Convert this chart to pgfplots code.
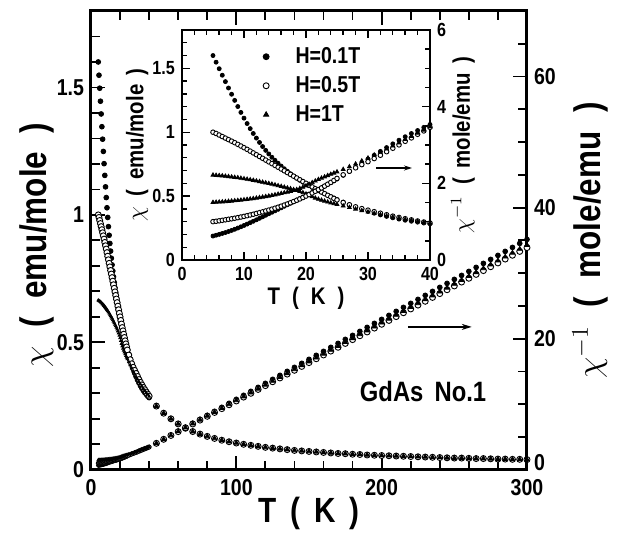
\documentclass[border=0pt]{standalone}
\usepackage{fontspec}
\setmainfont{Liberation Sans}[FakeStretch=0.85]
\usepackage{pgfplots}
\pgfplotsset{compat=1.18}
\usepackage{pgfplotstable}
\usetikzlibrary{arrows.meta}

\pgfplotstableread{
T c i
5.0 1.600 0.625
5.5 1.548 0.646
6.0 1.497 0.668
6.5 1.446 0.692
7.0 1.396 0.716
7.5 1.346 0.743
8.0 1.297 0.771
8.5 1.249 0.801
9.0 1.201 0.833
9.5 1.155 0.866
10.0 1.110 0.901
10.5 1.068 0.936
11.0 1.028 0.973
11.5 0.990 1.010
12.0 0.954 1.048
12.5 0.920 1.087
13.0 0.888 1.126
13.5 0.858 1.166
14.0 0.830 1.205
14.5 0.804 1.244
15.0 0.780 1.282
15.5 0.757 1.321
16.0 0.735 1.361
16.5 0.714 1.401
17.0 0.694 1.441
17.5 0.675 1.481
18.0 0.657 1.522
18.5 0.640 1.563
19.0 0.624 1.603
19.5 0.609 1.642
20.0 0.595 1.681
20.5 0.581 1.721
21.0 0.568 1.761
21.5 0.555 1.802
22.0 0.543 1.842
22.5 0.531 1.883
23.0 0.519 1.927
23.5 0.507 1.972
24.0 0.496 2.016
24.5 0.485 2.062
25.0 0.474 2.110
26 0.453 2.208
27 0.433 2.309
28 0.414 2.415
29 0.396 2.525
30 0.380 2.632
31 0.366 2.732
32 0.353 2.833
33 0.341 2.933
34 0.330 3.030
35 0.320 3.125
36 0.311 3.215
37 0.303 3.300
38 0.296 3.378
39 0.289 3.460
40 0.283 3.534
}\lowA

\pgfplotstableread{
T c i
5.0 1.000 1.000
5.5 0.990 1.010
6.0 0.978 1.022
6.5 0.966 1.035
7.0 0.954 1.048
7.5 0.942 1.062
8.0 0.930 1.075
8.5 0.918 1.089
9.0 0.905 1.105
9.5 0.892 1.121
10.0 0.879 1.138
10.5 0.866 1.155
11.0 0.852 1.174
11.5 0.838 1.193
12.0 0.824 1.214
12.5 0.810 1.235
13.0 0.796 1.256
13.5 0.782 1.279
14.0 0.768 1.302
14.5 0.754 1.326
15.0 0.740 1.351
15.5 0.726 1.377
16.0 0.712 1.404
16.5 0.698 1.433
17.0 0.684 1.462
17.5 0.670 1.493
18.0 0.656 1.524
18.5 0.642 1.558
19.0 0.628 1.592
19.5 0.614 1.629
20.0 0.600 1.667
20.5 0.586 1.706
21.0 0.572 1.748
21.5 0.558 1.792
22.0 0.545 1.835
22.5 0.532 1.880
23.0 0.519 1.927
23.5 0.506 1.976
24.0 0.494 2.024
24.5 0.482 2.075
25.0 0.470 2.128
26 0.450 2.222
27 0.432 2.315
28 0.416 2.404
29 0.402 2.488
30 0.390 2.564
31 0.378 2.646
32 0.366 2.732
33 0.354 2.825
34 0.343 2.915
35 0.333 3.003
36 0.323 3.096
37 0.314 3.185
38 0.305 3.279
39 0.297 3.367
40 0.289 3.460
}\lowB

\pgfplotstableread{
T c i
5.0 0.665 1.504
5.5 0.663 1.508
6.0 0.661 1.513
6.5 0.659 1.517
7.0 0.656 1.524
7.5 0.653 1.531
8.0 0.650 1.538
8.5 0.647 1.546
9.0 0.644 1.553
9.5 0.640 1.563
10.0 0.636 1.572
10.5 0.632 1.582
11.0 0.628 1.592
11.5 0.624 1.603
12.0 0.619 1.616
12.5 0.614 1.629
13.0 0.609 1.642
13.5 0.604 1.656
14.0 0.599 1.669
14.5 0.594 1.684
15.0 0.588 1.701
15.5 0.582 1.718
16.0 0.576 1.736
16.5 0.570 1.754
17.0 0.564 1.773
17.5 0.558 1.792
18.0 0.551 1.815
18.5 0.544 1.838
19.0 0.536 1.866
19.5 0.527 1.898
20.0 0.517 1.934
20.5 0.506 1.976
21.0 0.495 2.020
21.5 0.485 2.062
22.0 0.476 2.101
22.5 0.468 2.137
23.0 0.461 2.169
23.5 0.454 2.203
24.0 0.447 2.237
24.5 0.441 2.268
25.0 0.435 2.299
26 0.423 2.364
27 0.411 2.433
28 0.399 2.506
29 0.387 2.584
30 0.376 2.660
31 0.365 2.740
32 0.355 2.817
33 0.345 2.899
34 0.336 2.976
35 0.327 3.058
36 0.318 3.145
37 0.310 3.226
38 0.302 3.311
39 0.295 3.390
40 0.288 3.472
}\lowC

\pgfplotstableread{
T c i1 i2 i3
45 0.250 4.04 4.04 4.04
50 0.222 4.65 4.65 4.65
55 0.200 5.26 5.24 5.24
60 0.180 5.87 5.82 5.84
65 0.163 6.48 6.41 6.43
70 0.150 7.09 6.99 7.02
75 0.140 7.70 7.58 7.61
80 0.131 8.31 8.16 8.21
85 0.123 8.92 8.75 8.80
90 0.116 9.53 9.33 9.39
95 0.110 10.14 9.92 9.98
100 0.105 10.75 10.50 10.58
105 0.100 11.36 11.09 11.17
110 0.096 11.97 11.67 11.76
115 0.092 12.58 12.26 12.35
120 0.088 13.19 12.84 12.95
125 0.085 13.80 13.43 13.54
130 0.082 14.41 14.01 14.13
135 0.079 15.02 14.60 14.72
140 0.076 15.63 15.18 15.32
145 0.074 16.24 15.77 15.91
150 0.072 16.85 16.35 16.50
155 0.070 17.46 16.94 17.09
160 0.068 18.07 17.52 17.69
165 0.066 18.68 18.11 18.28
170 0.064 19.29 18.69 18.87
175 0.063 19.90 19.28 19.46
180 0.061 20.51 19.86 20.06
185 0.060 21.12 20.45 20.65
190 0.058 21.73 21.03 21.24
195 0.057 22.34 21.62 21.83
200 0.056 22.95 22.20 22.43
205 0.055 23.56 22.79 23.02
210 0.054 24.17 23.37 23.61
215 0.053 24.78 23.96 24.20
220 0.052 25.39 24.54 24.80
225 0.051 26.00 25.13 25.39
230 0.050 26.61 25.71 25.98
235 0.049 27.22 26.30 26.57
240 0.048 27.83 26.88 27.17
245 0.047 28.44 27.47 27.76
250 0.046 29.05 28.05 28.35
255 0.046 29.66 28.64 28.94
260 0.045 30.27 29.22 29.54
265 0.044 30.88 29.81 30.13
270 0.044 31.49 30.39 30.72
275 0.043 32.10 30.98 31.31
280 0.042 32.71 31.56 31.91
285 0.042 33.32 32.15 32.50
290 0.041 33.93 32.73 33.09
295 0.041 34.54 33.32 33.68
300 0.040 35.15 33.90 34.28
}\high

\pgfplotsset{
  common/.style={
    scale only axis, tick align=inside,
    /pgf/number format/assume math mode=true,
    every tick/.style={black, line width=0.9pt},
  },
  mainax/.style={common,
    width=218pt, height=229.4pt, at={(0pt,0pt)},
    xmin=0, xmax=300,
    axis line style={line width=1.5pt},
    major tick length=7pt, minor tick length=4.5pt,
    tick label style={font=\fontsize{11.5}{11.5}\selectfont\bfseries},
    label style={font=\fontsize{18.5}{18.5}\selectfont\bfseries},
  },
  insetax/.style={common,
    width=124pt, height=115pt, at={(45.5pt,104.9pt)},
    xmin=0, xmax=40,
    axis line style={line width=1pt},
    every tick/.style={black, line width=0.7pt},
    major tick length=4pt, minor tick length=2.5pt,
    tick label style={font=\fontsize{9.5}{9.5}\selectfont\bfseries},
    label style={font=\fontsize{12}{12}\selectfont\bfseries},
  },
  fdot/.style={black, only marks, mark=*, mark size=#1},
  odot/.style={black, only marks, mark=*, mark size=#1, mark options={fill=white, draw=black, line width=0.45pt}},
  tri/.style={black, only marks, mark=triangle*, mark size=#1},
}

\begin{document}
\begin{tikzpicture}
\useasboundingbox (-45.5pt,-31.6pt) rectangle (263.5pt,234.9pt);

% ---------- main axis, left (chi) ----------
\begin{axis}[mainax,
  ymin=0, ymax=1.8,
  xtick={0,100,200,300},
  minor xtick={20,40,60,80,120,140,160,180,220,240,260,280},
  xtick pos=both, ytick pos=left,
  xticklabel style={yshift=-1.5pt},
  ytick={0,0.5,1,1.5},
  minor ytick={0.1,0.2,0.3,0.4,0.6,0.7,0.8,0.9,1.1,1.2,1.3,1.4,1.6,1.7},
  xlabel={T\hspace{0.4em}(\hspace{0.4em}K\hspace{0.4em})},
  xlabel style={at={(axis description cs:0.5,0)}, anchor=center, yshift=-22pt, font=\fontsize{17.5}{17.5}\selectfont\bfseries},
  ylabel={$\chi$\hspace{0.5em}(\hspace{0.5em}emu/mole\hspace{0.5em})},
  ylabel style={at={(axis description cs:-0.124,0.49)}, anchor=center},
  clip=false,
]
\addplot[fdot=1.2pt] table[x=T,y=c]{\lowA};
\addplot[fdot=1.2pt] table[x=T,y=c]{\high};
\addplot[odot=1.5pt] table[x=T,y=c]{\lowB};
\addplot[odot=1.5pt] table[x=T,y=c]{\high};
\addplot[tri=0.75pt] table[x=T,y=c]{\lowC};
\addplot[tri=1.3pt] table[x=T,y=c]{\high};
\node[font=\fontsize{14}{14}\selectfont\bfseries] at (axis cs:228.5,0.309) {GdAs\hspace{0.4em}No.1};
\end{axis}

% ---------- main axis, right (1/chi) ----------
\begin{axis}[mainax,
  ymin=0, ymax=70,
  axis x line=none, axis y line*=right,
  ytick={0,20,40,60},
  yticklabels={\raisebox{-0.5pt}[0pt][0pt]{0},20,40,60},
  minor ytick={5,10,15,25,30,35,45,50,55,65},
  ylabel={$\chi^{-1}$\hspace{0.5em}(\hspace{0.5em}mole/emu\hspace{0.5em})},
  ylabel style={at={(axis description cs:1.145,0.5)}, anchor=center, rotate=0},
  clip=false,
]
\addplot[fdot=0.9pt] table[x=T,y=i]{\lowA};
\addplot[fdot=1.2pt] table[x=T,y=i1]{\high};
\addplot[odot=1.0pt] table[x=T,y=i]{\lowB};
\addplot[odot=1.5pt] table[x=T,y=i2]{\high};
\addplot[tri=0.75pt] table[x=T,y=i]{\lowC};
\addplot[tri=1.3pt] table[x=T,y=i3]{\high};
\draw[line width=0.75pt, -{Stealth[length=5pt,width=3pt]}] (axis cs:218,21.8) -- (axis cs:262,21.8);
\end{axis}

% ---------- inset, left (chi) ----------
\begin{axis}[insetax,
  axis background/.style={fill=white},
  ymin=0, ymax=1.8,
  xtick={0,10,20,30,40},
  minor xtick={2,4,6,8,12,14,16,18,22,24,26,28,32,34,36,38},
  xtick pos=both, ytick pos=left,
  ytick={0,0.5,1,1.5},
  minor ytick={0.1,0.2,0.3,0.4,0.6,0.7,0.8,0.9,1.1,1.2,1.3,1.4,1.6,1.7},
  xlabel={T\hspace{0.5em}(\hspace{0.5em}K\hspace{0.5em})},
  xlabel style={at={(axis description cs:0.5,-0.165)}, anchor=center},
  ylabel={$\chi$\hspace{0.45em}(\hspace{0.4em}emu/mole\hspace{0.4em})},
  ylabel style={at={(axis description cs:-0.181,0.5)}, anchor=center},
  legend style={at={(rel axis cs:0.32,0.94)}, anchor=north west, draw=none, fill=none,
    font=\fontsize{11.5}{11.5}\selectfont\bfseries, row sep=2pt, inner sep=0pt,
    nodes={inner sep=1.5pt}},
  legend cell align=left,
  legend image code/.code={\path (-2pt,0pt) (13pt,0pt); \draw[#1, mark size=1.5pt] plot coordinates {(0pt,0pt)};},
]
\addplot[fdot=1.0pt] table[x=T,y=c]{\lowA};
\addlegendentry{H=0.1T}
\addplot[odot=1.15pt] table[x=T,y=c]{\lowB};
\addlegendentry{H=0.5T}
\addplot[tri=1.1pt] table[x=T,y=c]{\lowC};
\addlegendentry{H=1T}
\end{axis}

% ---------- inset, right (1/chi) ----------
\begin{axis}[insetax,
  ymin=0, ymax=6,
  axis x line=none, axis y line*=right,
  ytick={0,2,4,6},
  minor ytick={0.5,1,1.5,2.5,3,3.5,4.5,5,5.5},
  ylabel={$\chi^{-1}$\hspace{0.45em}(\hspace{0.4em}mole/emu\hspace{0.4em})},
  ylabel style={at={(axis description cs:1.133,0.5)}, anchor=center, rotate=0},
]
\addplot[fdot=1.0pt] table[x=T,y=i]{\lowA};
\addplot[odot=1.15pt] table[x=T,y=i]{\lowB};
\addplot[tri=1.1pt] table[x=T,y=i]{\lowC};
\draw[line width=0.6pt, -{Stealth[length=4pt,width=2.5pt]}] (axis cs:31.3,2.4) -- (axis cs:37.1,2.4);
\end{axis}
\end{tikzpicture}
\end{document}
